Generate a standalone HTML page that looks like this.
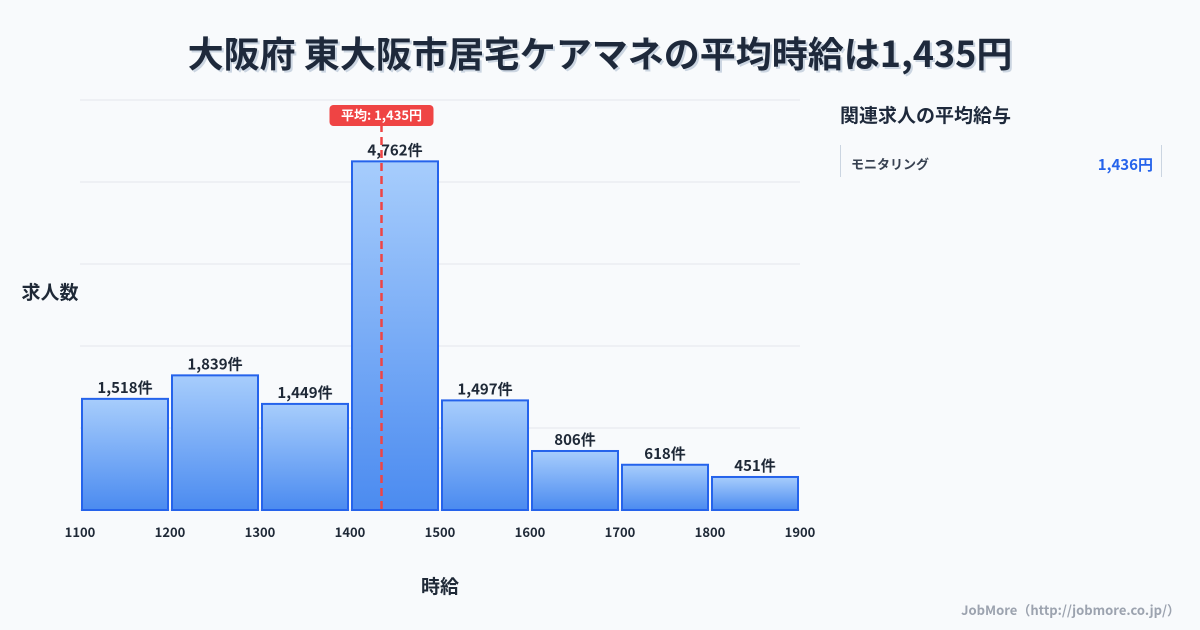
<!DOCTYPE html>
<html><head><meta charset="utf-8"><style>
body{margin:0;width:1200px;height:630px;background:#f8fafc;font-family:"Noto Sans CJK JP","Liberation Sans",sans-serif;overflow:hidden;position:relative;color:#1f2937}
.title{position:absolute;top:26px;left:0;width:1200px;text-align:center;font-size:36px;line-height:52px;font-weight:bold;color:#1e293b;text-shadow:2px 2px 0 #cbd5e1}
.side-title{position:absolute;left:840px;top:101px;font-size:19px;line-height:28px;font-weight:bold;color:#1e293b}
.row{position:absolute;left:840px;top:145px;width:320px;height:32px;border-left:1px solid #cbd5e1;border-right:1px solid #cbd5e1}
.row .n{position:absolute;left:10px;top:9px;font-size:13px;line-height:20px;font-weight:bold;color:#374151}
.row .v{position:absolute;right:8px;top:9px;font-size:15px;line-height:22px;font-weight:bold;color:#2563eb}
.foot{position:absolute;right:20px;top:600px;font-size:13px;line-height:20px;font-weight:bold;color:#9ca3af}
</style></head><body>
<div class="title">大阪府 東大阪市居宅ケアマネの平均時給は1,435円</div>
<div class="side-title">関連求人の平均給与</div>
<div class="row"><span class="n">モニタリング</span><span class="v">1,436円</span></div>
<div class="foot">JobMore（http://jobmore.co.jp/）</div>
<svg id="c" width="1200" height="630" style="position:absolute;left:0;top:0">
<defs><linearGradient id="g" x1="0" y1="0" x2="0" y2="1"><stop offset="0" stop-color="#a7cdfc"/><stop offset="1" stop-color="#4b8bf0"/></linearGradient></defs>
</svg>
<script>
const bins=[1100,1200,1300,1400,1500,1600,1700,1800];
const counts=[1518,1839,1449,4762,1497,806,618,451];
const xTicks=[1100,1200,1300,1400,1500,1600,1700,1800,1900];
const meanValue=1435;
const yMax=5600;
const svg=document.getElementById('c');const NS='http://www.w3.org/2000/svg';
const x=v=>80+(v-1100)*720/800;
const y=v=>510-v*410/yMax;
function mk(t,a,txt){const e=document.createElementNS(NS,t);for(const k in a)e.setAttribute(k,a[k]);if(txt!==undefined)e.textContent=txt;svg.appendChild(e);return e;}
for(let i=0;i<=5;i++){const g=mk('line',{x1:80,x2:800,y1:y(i*yMax/5),y2:y(i*yMax/5),stroke:'#e5e7eb','stroke-width':1});

}
bins.forEach((b,i)=>{const x0=x(b)+2,x1=x(b+100)-2;
const r=mk('rect',{x:x0,y:y(counts[i]),width:x1-x0,height:510-y(counts[i]),fill:'url(#g)',stroke:'#2563eb','stroke-width':2});


const t=mk('text',{x:(x0+x1)/2,y:y(counts[i])-6,'text-anchor':'middle','font-size':15,'font-weight':'bold',fill:'#1f2937'},counts[i].toLocaleString()+'件');

});
xTicks.forEach(v=>{const t=mk('text',{x:x(v),y:537,'text-anchor':'middle','font-size':13,'font-weight':'bold',fill:'#1f2937'},v);

});
const ml=mk('line',{x1:x(meanValue),x2:x(meanValue),y1:124,y2:510,stroke:'#ef4444','stroke-width':2.5,'stroke-dasharray':'8,5'});


const mb=mk('rect',{x:x(meanValue)-52,y:105,width:104,height:21,rx:4,fill:'#ef4444'});


const mt=mk('text',{x:x(meanValue),y:120,'text-anchor':'middle','font-size':13,'font-weight':'bold',fill:'#fff'},'平均: '+meanValue.toLocaleString()+'円');


const yt=mk('text',{x:50,y:299,'text-anchor':'middle','font-size':19,'font-weight':'bold',fill:'#1f2937'},'求人数');


const xt=mk('text',{x:440,y:593,'text-anchor':'middle','font-size':19,'font-weight':'bold',fill:'#1f2937'},'時給');


</script>
</body></html>
